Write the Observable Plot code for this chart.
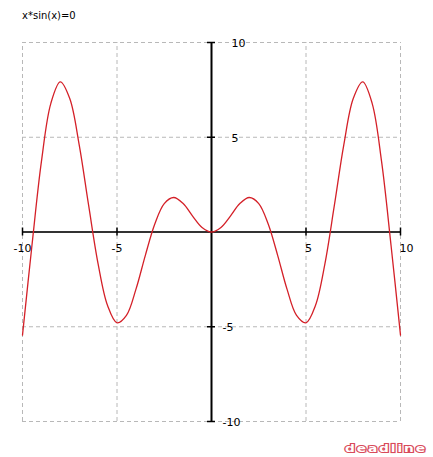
<!DOCTYPE html>
<html>
<head>
<meta charset="utf-8">
<script src="https://cdn.jsdelivr.net/npm/d3@7"></script>
<script src="https://cdn.jsdelivr.net/npm/@observablehq/plot@0.6"></script>
<style>
  html, body { margin: 0; padding: 0; background: #fff; }
  #wrap { position: relative; width: 433px; height: 457px; overflow: hidden; }
  #title { position: absolute; left: 22px; top: 10px; font: 10px "DejaVu Sans", sans-serif; color: #000; }
  #logo { position: absolute; left: 345px; top: 442px; font: bold 11px "DejaVu Sans", sans-serif; color: #fff;
          -webkit-text-stroke: 2.2px #d84a5a; paint-order: stroke fill; letter-spacing: 1.5px;
          transform: scaleX(1.25); transform-origin: left top; }
</style>
</head>
<body>
<div id="wrap">
  <div id="chart"></div>
  <div id="title">x*sin(x)=0</div>
  <div id="logo">deadline</div>
</div>
<script>
// Values
const xs = [-10, -9.5, -9, -8.5, -8, -7.5, -7, -6.5, -6, -5.5, -5, -4.5, -4, -3.5, -3, -2.5, -2, -1.5, -1, -0.5,
            0, 0.5, 1, 1.5, 2, 2.5, 3, 3.5, 4, 4.5, 5, 5.5, 6, 6.5, 7, 7.5, 8, 8.5, 9, 9.5, 10];
const ys = [-5.44, -0.71, 3.71, 6.79, 7.92, 7.04, 4.60, 1.40, -1.68, -3.88, -4.79, -4.40, -3.03, -1.23, 0.42, 1.50, 1.82, 1.50, 0.84, 0.24,
            0, 0.24, 0.84, 1.50, 1.82, 1.50, 0.42, -1.23, -3.03, -4.40, -4.79, -3.88, -1.68, 1.40, 4.60, 7.04, 7.92, 6.79, 3.71, -0.71, -5.44];
const xTicks = [-10, -5, 5, 10];
const yTicks = [-10, -5, 5, 10];
const xDomain = [-10, 10];
const yDomain = [-10, 10];

const curve = xs.map((x, i) => ({x, y: ys[i]}));

const chart = Plot.plot({
  width: 433,
  height: 457,
  marginLeft: 22,
  marginRight: 33,
  marginTop: 42,
  marginBottom: 36,
  x: {domain: xDomain, axis: null},
  y: {domain: yDomain, axis: null},
  style: {background: "transparent", fontFamily: "DejaVu Sans, sans-serif"},
  marks: [
    // dashed grid
    Plot.ruleX(xTicks, {x: d => d, y1: yDomain[0], y2: yDomain[1], stroke: "#b8b8b8", strokeDasharray: "4,3"}),
    Plot.ruleY(yTicks, {y: d => d, x1: xDomain[0], x2: xDomain[1], stroke: "#b8b8b8", strokeDasharray: "4,3"}),
    // axes through origin
    Plot.ruleY([0], {x1: xDomain[0], x2: xDomain[1], stroke: "#333", strokeWidth: 2}),
    Plot.ruleX([0], {y1: yDomain[0], y2: yDomain[1], stroke: "#000", strokeWidth: 2}),
    // tick marks
    Plot.ruleX(xTicks, {x: d => d, y1: 0, y2: 0, insetTop: -4, insetBottom: -4, stroke: "#000", strokeWidth: 1.5}),
    Plot.ruleY(yTicks, {y: d => d, x1: 0, x2: 0, insetLeft: -4, insetRight: -4, stroke: "#000", strokeWidth: 1.5}),
    // x tick labels
    Plot.text(xTicks.filter(d => d < 0), {x: d => d, y: 0, text: d => String(d), dy: 16, textAnchor: "middle", fontSize: 11, fill: "#000"}),
    Plot.text(xTicks.filter(d => d > 0), {x: d => d, y: 0, text: d => String(d), dy: 16, dx: -1, textAnchor: "start", fontSize: 11, fill: "#000"}),
    // y tick labels
    Plot.text(yTicks.filter(d => d < 0), {x: 0, y: d => d, text: d => String(d), dx: 11, dy: 1, textAnchor: "start", fontSize: 11, fill: "#000"}),
    Plot.text(yTicks.filter(d => d > 0), {x: 0, y: d => d, text: d => String(d), dx: 20, dy: 1, textAnchor: "start", fontSize: 11, fill: "#000"}),
    // curve
    Plot.line(curve, {x: "x", y: "y", stroke: "#d42028", strokeWidth: 1.3, curve: "catmull-rom"})
  ]
});
document.getElementById("chart").appendChild(chart);
</script>
</body>
</html>
